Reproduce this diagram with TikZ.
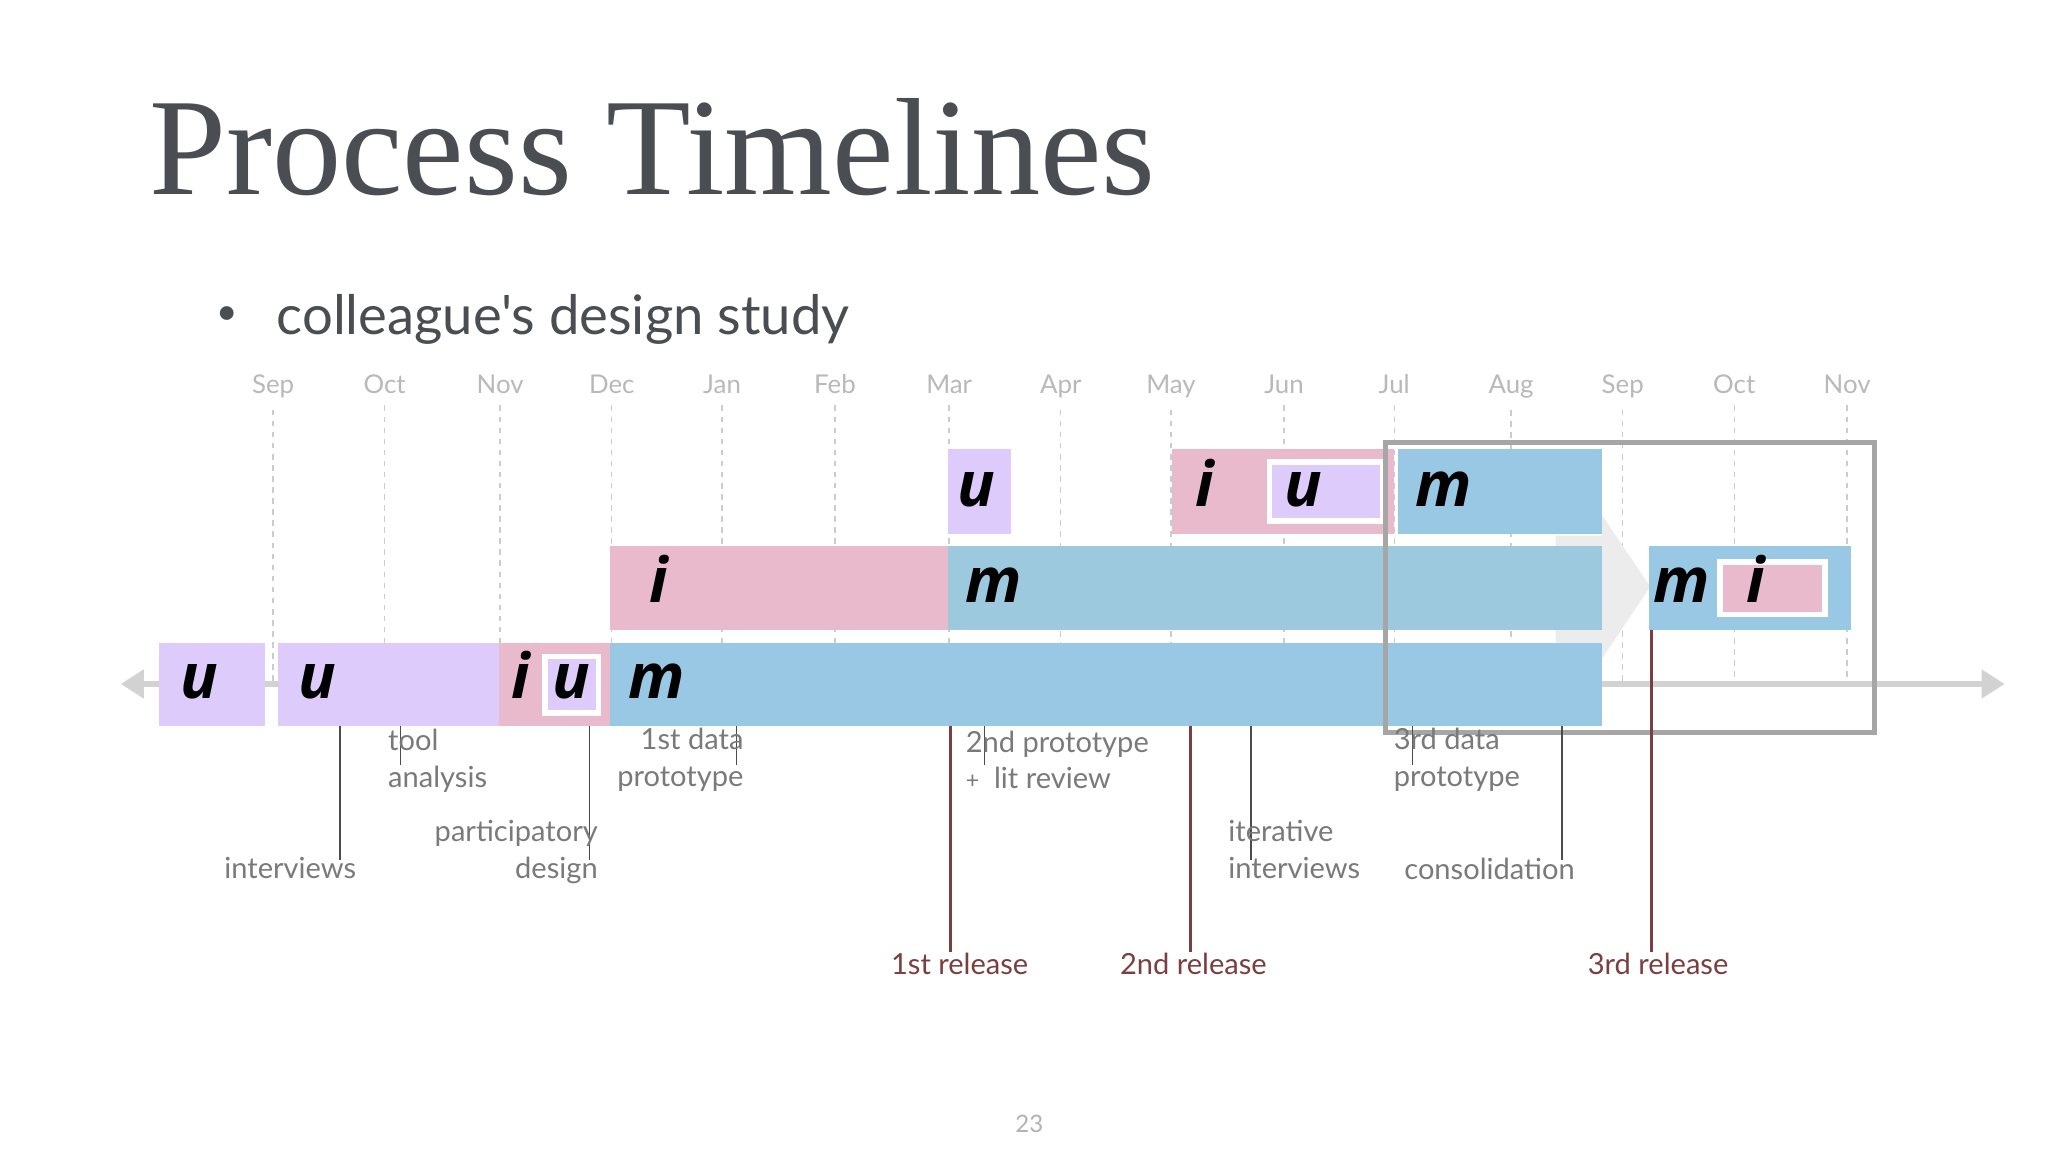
\documentclass[tikz,border=0pt]{standalone}
\usepackage{fontspec}
\setmainfont{Liberation Serif}
\newfontfamily\lab{Lato}
\newfontfamily\barfont{Open Sans}
\usetikzlibrary{arrows.meta}
\definecolor{lav}{HTML}{DCCBFB}
\definecolor{pnk}{HTML}{E8BACB}
\definecolor{blu}{HTML}{98C8E4}
\definecolor{blu2}{HTML}{9CC9DE}
\definecolor{tgray}{HTML}{7A7A7A}
\definecolor{rel}{HTML}{7B3F3F}
\definecolor{ttl}{HTML}{4A4D52}
\tikzset{
 inbox/.style={draw=white, line width=1.2pt},
 lt/.style={font=\barfont\fontsize{13.5}{14}\selectfont\bfseries\itshape, anchor=base, inner sep=0pt},
 mon/.style={font=\lab\fontsize{5.6}{6}\selectfont, text=gray!55, anchor=base, inner sep=0pt},
 ann/.style={font=\lab\fontsize{6.3}{8}\selectfont, text=tgray, inner sep=0pt},
 rl/.style={font=\lab\fontsize{6.3}{8}\selectfont, text=rel, anchor=base, inner sep=0pt},
 tick/.style={draw=black!70, line width=0.35pt},
 rtick/.style={draw=rel, line width=0.6pt},
 grid/.style={draw=gray!40, line width=0.3pt, dash pattern=on 1.2pt off 1.2pt},
}
\begin{document}
\begin{tikzpicture}[x=0.1mm,y=-0.1mm]
\useasboundingbox[fill=white] (0,0) rectangle (1560,878);
\node[font=\fontsize{30}{32}\selectfont, text=ttl, anchor=base west, inner sep=0pt] (title) at (113,148) {Process Timelines};
\node[font=\lab\fontsize{11.8}{13}\selectfont, text=ttl, anchor=base west, inner sep=0pt] (bul) at (210,255) {colleague's design study};
\node[font=\lab\fontsize{8}{9}\selectfont, text=ttl, anchor=base, inner sep=0pt] (dot) at (173,247) {•};
% months
\foreach \m/\x [count=\i] in {Sep/208,Oct/293,Nov/381,Dec/466,Jan/550,Feb/636,Mar/723,Apr/808,May/892,Jun/978,Jul/1062,Aug/1151,Sep/1236,Oct/1321,Nov/1407}{
  \node[mon] (m\i) at (\x,300) {\m};
  \coordinate (g\i) at (\x,520);
  \path[grid] (m\i.south) ++(0,8) -- (g\i);
}
% axis
\coordinate (axL) at (92,521); \coordinate (axR) at (1527,521);
\draw[gray!35, line width=1.2pt, {Triangle[length=5pt,width=6pt]}-{Triangle[length=5pt,width=6pt]}] (axL) -- (axR);
% chevron
\fill[gray!15] (1185,408) -- (1220,408) -- (1220,392) -- (1257,447) -- (1220,502) -- (1220,490) -- (1185,490) -- cycle;
% bottom row
\fill[lav] (121,490) rectangle (202,553);
\fill[lav] (212,490) rectangle (380,553);
\fill[pnk] (380,490) rectangle (465,553);
\fill[lav] (415,500) rectangle (456,543); \draw[inbox] (415,500) rectangle (456,543);
\fill[blu] (465,490) rectangle (1220,553);
\node[lt] (b1) at (152,532) {u};
\node[lt] (b2) at (242,532) {u};
\node[lt] (b3) at (397,532) {i};
\node[lt] (b4) at (435,532) {u};
\node[lt] (b5) at (500,532) {m};
% middle row
\fill[pnk] (465,416) rectangle (722,480);
\fill[blu2] (722,416) rectangle (1220,480);
\fill[blu] (1256,416) rectangle (1410,480);
\fill[pnk] (1310,428) rectangle (1390,468); \draw[inbox] (1310,428) rectangle (1390,468);
\node[lt] (c1) at (502,459) {i};
\node[lt] (c2) at (757,459) {m};
\node[lt] (c3) at (1281,459) {m};
\node[lt] (c4) at (1337,459) {i};
% top row
\fill[lav] (722,342) rectangle (770,407);
\fill[pnk] (893,342) rectangle (1062,407);
\fill[lav] (967,352) rectangle (1053,397); \draw[inbox] (967,352) rectangle (1053,397);
\fill[blu] (1065,342) rectangle (1220,407);
\node[lt] (d1) at (744,386) {u};
\node[lt] (d2) at (918,386) {i};
\node[lt] (d3) at (993,386) {u};
\node[lt] (d4) at (1100,386) {m};
% focus box
\draw[gray!70, line width=1.1pt] (1055,337) rectangle (1428,558);
% annotations
\coordinate (t1a) at (259,553); \coordinate (t1b) at (259,655); \draw[tick] (t1a)--(t1b);
\node[ann, anchor=base east] (a1) at (272,669) {interviews};
\coordinate (t2a) at (305,553); \coordinate (t2b) at (305,583); \draw[tick] (t2a)--(t2b);
\node[ann, anchor=base west, align=left] (a2) at (295,600) {tool\\analysis};
\coordinate (t3a) at (449,553); \coordinate (t3b) at (449,655); \draw[tick] (t3a)--(t3b);
\node[ann, anchor=base east, align=right] (a3) at (456,669) {participatory\\design};
\coordinate (t4a) at (561,553); \coordinate (t4b) at (561,583); \draw[tick] (t4a)--(t4b);
\node[ann, anchor=base east, align=right] (a4) at (567,599) {1st data\\prototype};
\coordinate (t5a) at (750,553); \coordinate (t5b) at (750,583); \draw[tick] (t5a)--(t5b);
\node[ann, anchor=base west, align=left] (a5) at (735,601) {2nd prototype\\{\fontsize{5}{6}\selectfont+}\ \ lit review};
\coordinate (t6a) at (953,553); \coordinate (t6b) at (953,655); \draw[tick] (t6a)--(t6b);
\node[ann, anchor=base west, align=left] (a6) at (935,669) {iterative\\interviews};
\coordinate (t7a) at (1076,553); \coordinate (t7b) at (1076,583); \draw[tick] (t7a)--(t7b);
\node[ann, anchor=base west, align=left] (a7) at (1061,599) {3rd data\\prototype};
\coordinate (t8a) at (1190,553); \coordinate (t8b) at (1190,655); \draw[tick] (t8a)--(t8b);
\node[ann, anchor=base west] (a8) at (1069,670) {consolidation};
% releases
\coordinate (r1a) at (724,553); \coordinate (r1b) at (724,725); \draw[rtick] (r1a)--(r1b);
\node[rl] (rl1) at (731,742) {1st release};
\coordinate (r2a) at (907,553); \coordinate (r2b) at (907,725); \draw[rtick] (r2a)--(r2b);
\node[rl] (rl2) at (909,742) {2nd release};
\coordinate (r3a) at (1258,480); \coordinate (r3b) at (1258,725); \draw[rtick] (r3a)--(r3b);
\node[rl] (rl3) at (1263,742) {3rd release};
\node[font=\lab\fontsize{5.2}{6}\selectfont, text=gray!60, anchor=base, inner sep=0pt] (pg) at (784,863) {23};
\end{tikzpicture}
\end{document}
